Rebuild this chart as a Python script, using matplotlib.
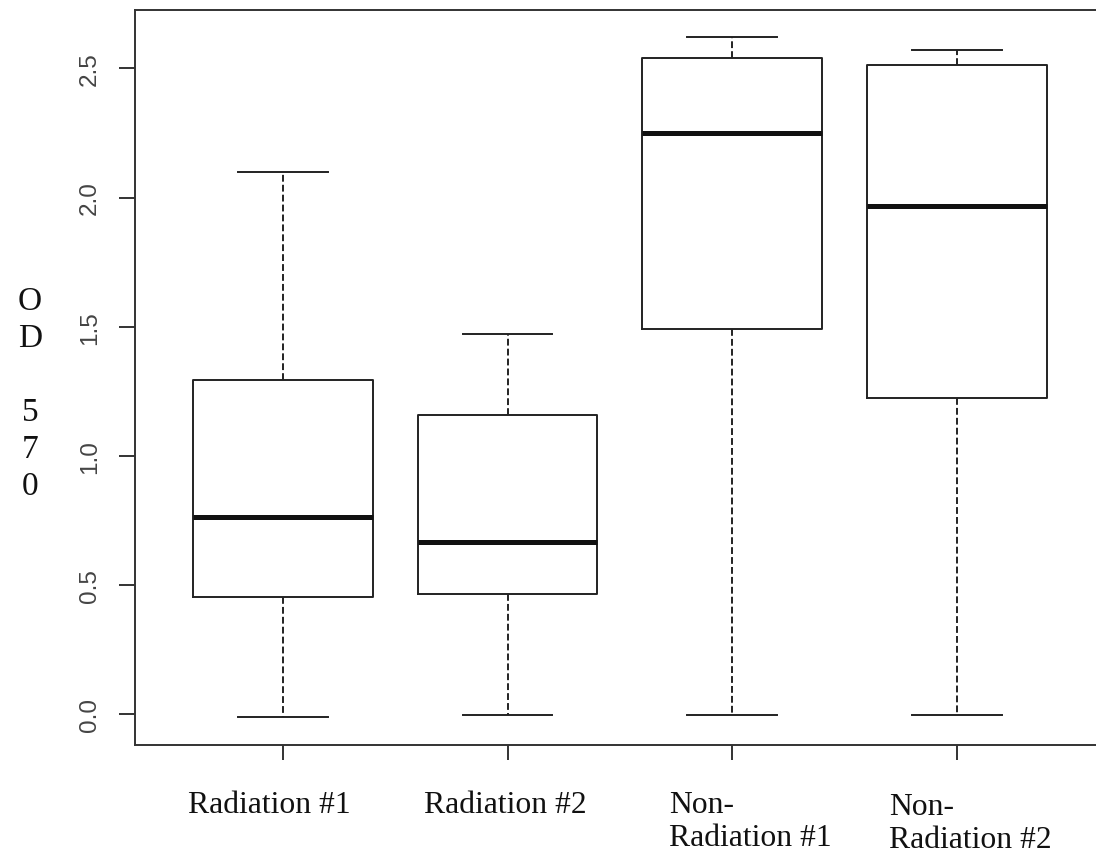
import matplotlib
matplotlib.use("Agg")
import matplotlib.pyplot as plt
from matplotlib.transforms import blended_transform_factory

# ---- data ----
categories = ["Radiation #1", "Radiation #2", "Non-\nRadiation #1", "Non-\nRadiation #2"]
whisker_low = [-0.014, -0.006, -0.006, -0.006]
q1 = [0.454, 0.466, 1.491, 1.223]
median = [0.761, 0.664, 2.250, 1.969]
q3 = [1.293, 1.157, 2.539, 2.513]
whisker_high = [2.099, 1.471, 2.623, 2.571]
y_ticks = [0.0, 0.5, 1.0, 1.5, 2.0, 2.5]
y_label = "O\nD\n\n5\n7\n0"

W, H = 1096, 853
fig = plt.figure(figsize=(W / 100, H / 100), dpi=100)
fig.patch.set_facecolor("white")
ax = fig.add_axes([134.7 / W, 1 - 745.7 / H, (1105 - 134.7) / W, (745.7 - 10.5) / H])

stats = []
for i, lab in enumerate(categories):
    stats.append(dict(label=lab, med=median[i], q1=q1[i], q3=q3[i],
                      whislo=whisker_low[i], whishi=whisker_high[i], fliers=[]))

line_c = "#222222"
lw = 1.4
positions = list(range(1, len(categories) + 1))
ax.bxp(stats, positions=positions, widths=0.8, capwidths=0.4, showfliers=False,
       boxprops=dict(color=line_c, lw=lw),
       whiskerprops=dict(color=line_c, lw=lw, linestyle=(0, (3.5, 1.6))),
       capprops=dict(color=line_c, lw=lw),
       medianprops=dict(color="#111111", lw=3.6, solid_capstyle="butt"))

# R-style limits (4% expansion)
lo, hi = min(whisker_low), max(whisker_high)
pad = 0.04 * (hi - lo)
ax.set_ylim(lo - pad, hi + pad)
ax.set_xlim(0.5 - 0.16, len(categories) + 0.5 + 0.16)

for s in ax.spines.values():
    s.set_color("#333333")
    s.set_linewidth(lw)

ax.set_yticks(y_ticks)
ax.set_yticklabels([f"{v:.1f}" for v in y_ticks], rotation=90, va="center",
                   family="Liberation Sans", fontsize=17.5, color="#444444")
ax.tick_params(axis="y", length=11.5, width=lw, color="#333333", pad=13)

ax.set_xticks(positions)
ax.set_xticklabels([])
ax.tick_params(axis="x", length=10.8, width=lw, color="#333333")

# category labels (placed like the reference's hand-set labels)
tr = blended_transform_factory(ax.transData, fig.transFigure)
label_x = [0.938, 1.99, 2.718, 3.697]
label_ha = ["center", "center", "left", "left"]
label_y = [1 - 813 / H, 1 - 813 / H, 1 - 846 / H, 1 - 848 / H]
for lab, x, ha, y in zip(categories, label_x, label_ha, label_y):
    ax.text(x, y, lab, transform=tr, ha=ha, va="baseline", multialignment="left",
            family="Liberation Serif", fontsize=22.8, color="#111111", linespacing=1.17)

fig.text(30 / W, 1 - 394 / H, y_label, ha="center", va="center", multialignment="center",
         family="Liberation Serif", fontsize=24, color="#111111", linespacing=1.275)

fig.savefig("out.png", dpi=100, facecolor="white")
